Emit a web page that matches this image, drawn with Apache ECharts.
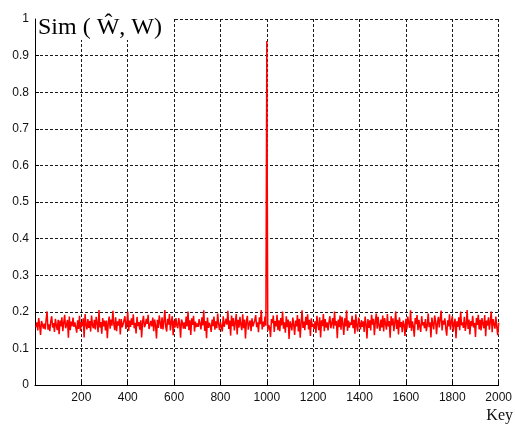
<!DOCTYPE html>
<html>
<head>
<meta charset="utf-8">
<script src="https://cdn.jsdelivr.net/npm/echarts@6/dist/echarts.min.js"></script>
<style>
html,body{margin:0;padding:0;background:#fff;}
#chart{width:515px;height:425px;}
</style>
</head>
<body>
<div id="chart"></div>
<script>
// Similarity values in thousandths, sampled every keyStep keys (4, 8, ..., 2000)
var keyStep = 4;
var simThousandths = [
158,171,149,183,162,137,175,166,154,168,152,179,201,151,166,147,174,188,157,169,
145,181,163,150,178,139,176,160,185,147,170,192,155,164,178,129,187,150,173,161,
184,159,171,167,143,177,153,189,148,172,161,182,130,194,165,152,180,156,175,146,
190,163,155,178,152,186,168,144,205,157,172,140,183,160,176,149,176,128,169,187,
154,179,162,203,166,150,185,147,174,162,181,138,180,158,166,171,188,153,167,201,
148,176,159,182,164,193,155,170,141,186,161,172,151,177,130,173,189,158,164,181,
167,192,153,148,175,160,184,147,179,163,127,178,156,190,169,153,185,152,174,205,
159,146,181,165,194,149,172,188,136,176,157,183,162,155,183,168,129,179,171,154,
171,153,187,160,201,150,177,137,182,164,189,146,173,158,168,159,180,166,152,185,
163,204,148,175,128,184,156,170,162,145,179,161,187,151,174,155,195,167,150,172,
160,146,188,159,155,181,165,203,153,176,135,190,161,183,149,170,194,138,178,157,
186,164,150,193,155,179,127,174,189,151,168,176,147,182,160,156,177,191,158,171,
144,185,166,205,152,173,159,187,162,940,148,164,157,131,180,169,190,145,175,160,
192,150,177,147,183,163,201,154,171,143,188,158,179,126,174,165,149,184,165,137,
176,160,191,146,181,129,169,204,156,173,150,186,164,193,152,178,134,182,159,167,
153,174,142,189,166,150,185,130,177,161,194,147,180,157,171,149,172,188,155,168,
183,154,201,162,175,128,179,158,190,151,186,167,137,182,160,204,148,176,157,171,
164,189,155,178,140,193,161,146,184,170,152,177,159,174,145,187,166,127,180,156,
177,149,192,165,181,136,173,195,154,186,162,148,179,157,190,146,183,168,151,194,
160,175,129,188,163,182,147,170,201,153,178,138,185,158,172,144,176,165,134,181,
152,187,169,156,204,148,174,161,132,183,166,191,150,178,159,145,188,163,172,155,
180,147,163,195,158,171,130,184,167,152,190,175,139,169,186,157,162,203,149,176,
165,182,154,135,177,160,193,151,172,188,146,168,181,128,174,159,185,150,201,163,
171,156,186,148,166,205,153,179,138,175,161,189,157,170,131,183,164,192,152,178,
149,183,168,155,191,133,176,162,185,151,173,201,144,180,167,154,187,159,136,170
];
var xTicks = [200,400,600,800,1000,1200,1400,1600,1800,2000];
var yTicks = [0,0.1,0.2,0.3,0.4,0.5,0.6,0.7,0.8,0.9,1];
var titleText = 'Sim ( \u0174, W)';
var xName = 'Key';

var seriesData = simThousandths.map(function(v,i){ return [(i+1)*keyStep, v/1000]; });

var chart = echarts.init(document.getElementById('chart'), null, {renderer:'canvas'});
var gridLine = {show:true, lineStyle:{color:'#1a1a1a', width:1, type:[3,2]}};
chart.setOption({
  animation:false,
  backgroundColor:'#fff',
  grid:{left:35, right:14, top:19, bottom:40, containLabel:false},
  xAxis:{
    type:'value', min:0, max:2000, interval:200,
    axisLine:{show:true, onZero:false, lineStyle:{color:'#000', width:1}},
    axisTick:{show:true, inside:true, length:4, lineStyle:{color:'#000'}},
    axisLabel:{color:'#111', fontFamily:'Liberation Sans, Arial', fontSize:12, margin:7,
      formatter:function(v){ return xTicks.indexOf(v) >= 0 ? String(v) : ''; }},
    splitLine:gridLine
  },
  yAxis:{
    type:'value', min:0, max:1, interval:0.1,
    axisLine:{show:true, onZero:false, lineStyle:{color:'#000', width:1}},
    axisTick:{show:true, inside:true, length:4, lineStyle:{color:'#000'}},
    axisLabel:{color:'#111', fontFamily:'Liberation Sans, Arial', fontSize:12, margin:6,
      formatter:function(v){
        for (var i=0;i<yTicks.length;i++){ if (Math.abs(yTicks[i]-v)<1e-9) return String(yTicks[i]); }
        return '';
      }},
    splitLine:gridLine
  },
  series:[{
    type:'line', data:seriesData, showSymbol:false, symbol:'none',
    sampling:null, smooth:false,
    lineStyle:{color:'#ff0000', width:1.5},
    z:3
  }],
  graphic:[
    {type:'rect', left:36, top:0, shape:{width:137, height:40}, style:{fill:'#fff'}, z:100},
    {type:'text', left:38, top:16, style:{text:titleText, fill:'#000', font:'24px "Liberation Serif", "Times New Roman", serif'}, z:101},
    {type:'text', right:2, top:408, style:{text:xName, fill:'#111', font:'16px "Liberation Serif", "Times New Roman", serif'}, z:101}
  ]
});
</script>
</body>
</html>
